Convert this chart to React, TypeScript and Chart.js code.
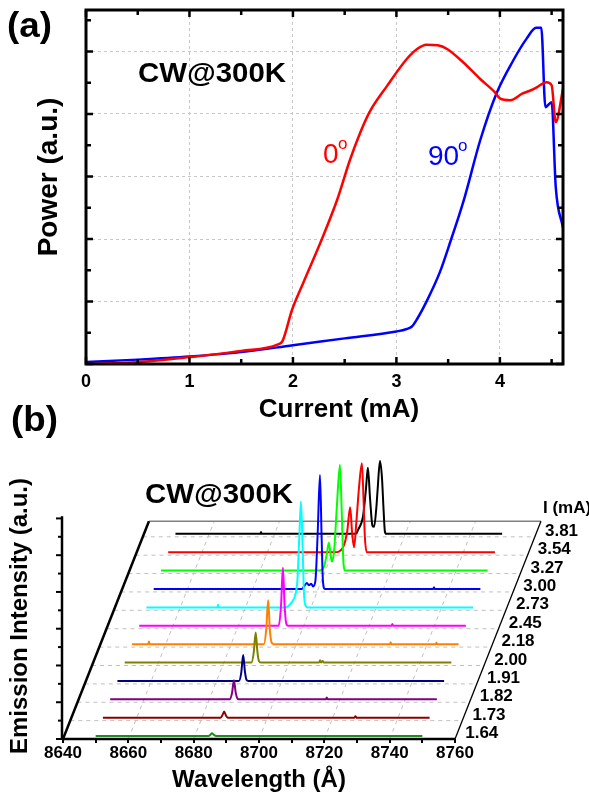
import React, { useEffect, useRef } from "react";
import { Chart, registerables } from "chart.js";

Chart.register(...registerables);

const FONT = "'Liberation Sans', Arial, Helvetica, sans-serif";

// ---------------- Panel (a): power vs current ----------------
const currentRed = [0, 0.5, 1.0, 1.5, 1.85, 1.9, 1.99, 2.1, 2.28, 2.43, 2.55, 2.65, 2.74, 2.91, 3.1, 3.2, 3.29, 3.4, 3.49, 3.65, 3.81, 3.95, 4.0, 4.1, 4.22, 4.3, 4.36, 4.45, 4.5, 4.54, 4.61];
const powerRed = [0, 0.03, 0.11, 0.21, 0.31, 0.37, 0.86, 1.3, 2.0, 2.64, 3.26, 3.7, 4.03, 4.45, 4.88, 5.04, 5.11, 5.1, 5.04, 4.82, 4.56, 4.35, 4.25, 4.22, 4.33, 4.38, 4.43, 4.51, 4.46, 3.87, 4.4];
const currentBlue = [0, 0.5, 1.0, 1.5, 2.0, 2.5, 3.0, 3.1, 3.15, 3.2, 3.3, 3.42, 3.53, 3.6, 3.66, 3.81, 3.97, 4.13, 4.26, 4.35, 4.4, 4.44, 4.5, 4.54, 4.61];
const powerBlue = [0.03, 0.07, 0.12, 0.19, 0.3, 0.41, 0.52, 0.56, 0.6, 0.72, 1.03, 1.47, 2.0, 2.35, 2.67, 3.58, 4.34, 4.86, 5.21, 5.38, 5.38, 4.11, 4.19, 2.83, 2.18];
const currentTicks = [0, 1, 2, 3, 4];
const powerGrid = [0, 1, 2, 3, 4, 5];

// ---------------- Panel (b): spectra waterfall ----------------
const wavelengthTicks = [8640, 8650, 8660, 8670, 8680, 8690, 8700, 8710, 8720, 8730, 8740, 8750, 8760];
const wavelengthGrid = [8660, 8680, 8700, 8720, 8740];
const currentLabels = ["1.64", "1.73", "1.82", "1.91", "2.00", "2.18", "2.45", "2.73", "3.00", "3.27", "3.54", "3.81"];
const traceColors = ["#1e8c1e", "#8b0000", "#800080", "#000080", "#808000", "#ff8000", "#ff00ff", "#00ffff", "#0000ff", "#00ff00", "#ff0000", "#000000"];

const s164 = [[8650, 0.16], [8684.5, 0.16], [8685.1, 0.22], [8685.6, 0.31], [8686.2, 0.22], [8686.9, 0.16], [8750, 0.16]];
const s173 = [[8650, 0.16], [8686.0, 0.16], [8686.6, 0.3], [8687.1, 0.49], [8687.6, 0.3], [8688.2, 0.16], [8727.0, 0.16], [8727.3, 0.24], [8727.6, 0.16], [8750, 0.16]];
const s182 = [[8650, 0.16], [8686.6, 0.16], [8687.3, 0.5], [8687.9, 1.19], [8688.4, 0.55], [8689.0, 0.19], [8689.5, 0.16], [8716.0, 0.16], [8716.3, 0.26], [8716.6, 0.16], [8750, 0.16]];
const s191 = [[8650, 0.16], [8687.2, 0.16], [8687.9, 0.6], [8688.5, 1.57], [8689.0, 0.7], [8689.5, 0.22], [8690.1, 0.16], [8750, 0.16]];
const s200 = [[8650, 0.16], [8688.8, 0.16], [8689.5, 0.7], [8690.1, 1.79], [8690.6, 0.8], [8691.1, 0.24], [8691.7, 0.16], [8709.5, 0.16], [8709.8, 0.28], [8710.1, 0.16], [8710.6, 0.25], [8710.9, 0.16], [8750, 0.16]];
const s218 = [[8650, 0.16], [8655.0, 0.16], [8655.2, 0.3], [8655.4, 0.16], [8690.4, 0.16], [8691.1, 0.95], [8691.7, 2.55], [8692.2, 1.0], [8692.7, 0.28], [8693.3, 0.16], [8729.0, 0.16], [8729.2, 0.26], [8729.4, 0.16], [8743.0, 0.16], [8743.2, 0.24], [8743.4, 0.16], [8750, 0.16]];
const s245 = [[8650, 0.16], [8692.7, 0.16], [8693.4, 1.2], [8694.0, 3.31], [8694.5, 1.3], [8695.0, 0.3], [8695.6, 0.16], [8727.3, 0.16], [8727.5, 0.26], [8727.7, 0.16], [8750, 0.16]];
const s273 = [[8650, 0.16], [8671.7, 0.16], [8671.9, 0.3], [8672.1, 0.16], [8692.5, 0.16], [8694.5, 0.45], [8695.5, 0.8], [8696.2, 1.6], [8696.8, 4.0], [8697.3, 5.92], [8697.8, 3.5], [8698.2, 1.0], [8698.7, 0.25], [8699.3, 0.16], [8750, 0.16]];
const s300 = [[8650, 0.16], [8695.3, 0.16], [8696.2, 0.35], [8696.9, 0.49], [8697.5, 0.36], [8698.2, 0.45], [8698.8, 0.3], [8699.5, 0.6], [8700.2, 3.2], [8700.9, 6.36], [8701.4, 3.0], [8701.8, 0.6], [8702.4, 0.16], [8735.6, 0.16], [8735.8, 0.26], [8736.0, 0.16], [8750, 0.16]];
const s327 = [[8650, 0.16], [8698.5, 0.16], [8699.9, 0.36], [8700.8, 1.1], [8701.4, 1.68], [8701.9, 1.1], [8702.3, 0.65], [8703.0, 1.2], [8703.8, 3.5], [8704.8, 5.92], [8705.4, 3.0], [8705.9, 0.5], [8706.4, 0.16], [8750, 0.16]];
const s354 = [[8650, 0.16], [8701.0, 0.16], [8703.5, 0.42], [8704.8, 1.3], [8705.7, 2.61], [8706.3, 1.2], [8706.9, 0.43], [8707.6, 1.8], [8708.4, 3.66], [8709.3, 5.0], [8709.8, 3.0], [8710.2, 1.0], [8710.8, 0.16], [8750, 0.16]];
const s381 = [[8650, 0.16], [8676.0, 0.16], [8676.2, 0.26], [8676.4, 0.16], [8705.3, 0.16], [8705.9, 0.38], [8707.4, 1.1], [8708.3, 2.57], [8708.9, 3.75], [8709.6, 2.0], [8710.3, 0.6], [8710.8, 0.54], [8711.5, 1.6], [8711.9, 2.6], [8712.6, 4.13], [8713.2, 3.26], [8713.7, 1.5], [8714.1, 0.3], [8714.5, 0.16], [8750, 0.16]];
const spectra = [s164, s173, s182, s191, s200, s218, s245, s273, s300, s327, s354, s381];

// oblique projection of the waterfall (per trace step)
const DEPTH_SHIFT = 2.22; // Å
const DEPTH_RISE = 1; // intensity units
const DEPTH_EXTENT = 11.85;
const AXIS_TOP = 12.12;

function wideText(ctx: any, text: string, x: number, y: number, sx: number) {
  ctx.save();
  ctx.translate(x, y);
  ctx.scale(sx, 1);
  ctx.fillText(text, 0, 0);
  ctx.restore();
}

function PanelA() {
  const ref = useRef<HTMLCanvasElement>(null);
  useEffect(() => {
    const deco = {
      id: "decoA",
      afterDraw(chart: any) {
        const { ctx, chartArea: a } = chart;
        const xs = chart.scales.x;
        const ys = chart.scales.y;
        ctx.save();
        ctx.strokeStyle = "#000";
        ctx.lineWidth = 2.5;
        for (let v = 0; v <= 4.5 + 1e-9; v += 0.5) {
          const px = xs.getPixelForValue(v);
          const L = Math.abs(v - Math.round(v)) < 1e-6 ? 7 : 5;
          ctx.beginPath();
          ctx.moveTo(px, a.bottom); ctx.lineTo(px, a.bottom - L);
          ctx.moveTo(px, a.top); ctx.lineTo(px, a.top + L);
          ctx.stroke();
        }
        for (let v = 0; v <= 5.5 + 1e-9; v += 0.5) {
          const py = ys.getPixelForValue(v);
          const L = Math.abs(v - Math.round(v)) < 1e-6 ? 7 : 5;
          ctx.beginPath();
          ctx.moveTo(a.left, py); ctx.lineTo(a.left + L, py);
          ctx.moveTo(a.right, py); ctx.lineTo(a.right - L, py);
          ctx.stroke();
        }
        ctx.lineWidth = 3;
        ctx.strokeRect(a.left, a.top, a.right - a.left, a.bottom - a.top);

        ctx.fillStyle = "#000";
        ctx.textBaseline = "alphabetic";
        ctx.textAlign = "left";
        ctx.font = `bold 35px ${FONT}`;
        wideText(ctx, "(a)", 7, 37, 1.05);
        ctx.font = `bold 27px ${FONT}`;
        wideText(ctx, "CW@300K", 138, 82, 1.09);

        // axis titles
        ctx.textAlign = "center";
        ctx.font = `bold 26px ${FONT}`;
        ctx.fillText("Current (mA)", 339, 417);
        ctx.save();
        ctx.translate(57, 177);
        ctx.rotate(-Math.PI / 2);
        ctx.font = `bold 28px ${FONT}`;
        ctx.fillText("Power (a.u.)", 0, 0);
        ctx.restore();

        ctx.textAlign = "left";
        ctx.fillStyle = "#ff0000";
        ctx.font = `28px ${FONT}`;
        ctx.fillText("0", 323, 163);
        ctx.font = `17px ${FONT}`;
        ctx.fillText("o", 338, 149);
        ctx.fillStyle = "#0000ff";
        ctx.font = `28px ${FONT}`;
        ctx.fillText("90", 428, 165);
        ctx.font = `17px ${FONT}`;
        ctx.fillText("o", 458, 151);
        ctx.restore();
      },
    };
    const chart = new Chart(ref.current as HTMLCanvasElement, {
      type: "scatter",
      data: {
        datasets: [
          {
            label: "0°",
            data: currentRed.map((x, i) => ({ x, y: powerRed[i] })),
            borderColor: "#ff0000",
            borderWidth: 2.5,
            pointRadius: 0,
            showLine: true,
            cubicInterpolationMode: "monotone",
          },
          {
            label: "90°",
            data: currentBlue.map((x, i) => ({ x, y: powerBlue[i] })),
            borderColor: "#0000ff",
            borderWidth: 2.5,
            pointRadius: 0,
            showLine: true,
            cubicInterpolationMode: "monotone",
          },
        ],
      },
      options: {
        animation: false,
        responsive: false,
        maintainAspectRatio: false,
        layout: { padding: { top: 10, right: 26, left: 0, bottom: 0 } },
        plugins: { legend: { display: false }, tooltip: { enabled: false } },
        scales: {
          x: {
            type: "linear",
            min: 0,
            max: 4.61,
            afterBuildTicks: (s: any) => { s.ticks = currentTicks.map((v) => ({ value: v })); },
            afterFit: (s: any) => { s.height = 66; },
            grid: {
              drawTicks: false,
              color: (c: any) => (c.tick && c.tick.value > 0 ? "#c8c8c8" : "rgba(0,0,0,0)"),
              lineWidth: 1,
            },
            border: { display: false, dash: [3, 3] },
            ticks: { font: { family: FONT, size: 18, weight: "bold" }, color: "#000", padding: 7, maxRotation: 0, autoSkip: false },
          },
          y: {
            type: "linear",
            min: 0,
            max: 5.664,
            afterBuildTicks: (s: any) => { s.ticks = powerGrid.map((v) => ({ value: v })); },
            afterFit: (s: any) => { s.width = 86; },
            grid: {
              drawTicks: false,
              color: (c: any) => (c.tick && c.tick.value > 0 ? "#c8c8c8" : "rgba(0,0,0,0)"),
              lineWidth: 1,
            },
            border: { display: false, dash: [3, 3] },
            ticks: { display: false },
          },
        },
      },
      plugins: [deco],
    } as any);
    return () => chart.destroy();
  }, []);
  return <canvas ref={ref} width={589} height={430} style={{ position: "absolute", left: 0, top: 0, width: 589, height: 430 }} />;
}

function PanelB() {
  const ref = useRef<HTMLCanvasElement>(null);
  useEffect(() => {
    const deco = {
      id: "decoB",
      beforeDatasetsDraw(chart: any) {
        const { ctx } = chart;
        const xs = chart.scales.x;
        const ys = chart.scales.y;
        const P = (w: number, d: number, v: number) => [xs.getPixelForValue(w + d * DEPTH_SHIFT), ys.getPixelForValue(v + d * DEPTH_RISE)];
        const line = (p: number[], q: number[]) => { ctx.beginPath(); ctx.moveTo(p[0], p[1]); ctx.lineTo(q[0], q[1]); ctx.stroke(); };
        const w0 = wavelengthTicks[0];
        const w1 = wavelengthTicks[wavelengthTicks.length - 1];
        ctx.save();
        ctx.strokeStyle = "#c0c0c0";
        ctx.lineWidth = 1;
        ctx.setLineDash([4, 4]);
        wavelengthGrid.forEach((w) => line(P(w, 0, 0), P(w, DEPTH_EXTENT, 0)));
        for (let d = 1; d < currentLabels.length; d++) line(P(w0, d, 0), P(w1, d, 0));
        ctx.setLineDash([]);
        ctx.strokeStyle = "#808080";
        ctx.lineWidth = 1.5;
        line(P(w0, DEPTH_EXTENT, 0), P(w1, DEPTH_EXTENT, 0));
        ctx.strokeStyle = "#000";
        ctx.lineWidth = 1.3;
        line(P(w1, 0, 0), P(w1, DEPTH_EXTENT, 0));
        ctx.lineWidth = 2.5;
        line(P(w0, 0, 0), P(w0, DEPTH_EXTENT, 0));
        line(P(w0, 0, 0), P(w1, 0, 0));
        // vertical intensity axis
        const ax = xs.getPixelForValue(w0) - 1;
        ctx.beginPath();
        ctx.moveTo(ax, ys.getPixelForValue(0) + 1);
        ctx.lineTo(ax, ys.getPixelForValue(AXIS_TOP));
        ctx.stroke();
        ctx.lineWidth = 2;
        for (let i = 0; i <= 12; i++) {
          const py = ys.getPixelForValue(i);
          ctx.beginPath();
          ctx.moveTo(ax, py);
          ctx.lineTo(ax - (i % 2 === 0 ? 6 : 4), py);
          ctx.stroke();
        }
        ctx.restore();
      },
      afterDraw(chart: any) {
        const { ctx } = chart;
        const xs = chart.scales.x;
        const ys = chart.scales.y;
        const w1 = wavelengthTicks[wavelengthTicks.length - 1];
        ctx.save();
        ctx.fillStyle = "#000";
        ctx.textAlign = "left";
        ctx.textBaseline = "middle";
        ctx.font = `bold 17px ${FONT}`;
        currentLabels.forEach((lab, k) => {
          const d = k + 0.3;
          ctx.fillText(lab, xs.getPixelForValue(w1 + d * DEPTH_SHIFT) + 8, ys.getPixelForValue(d * DEPTH_RISE));
        });
        ctx.textBaseline = "alphabetic";
        ctx.fillText("I (mA)", 543, 123);
        ctx.font = `bold 35px ${FONT}`;
        wideText(ctx, "(b)", 11, 41, 1.05);
        ctx.font = `bold 27px ${FONT}`;
        wideText(ctx, "CW@300K", 145, 113, 1.09);
        ctx.textAlign = "center";
        ctx.font = `bold 24px ${FONT}`;
        const cx = (xs.getPixelForValue(wavelengthTicks[0]) + xs.getPixelForValue(w1)) / 2;
        ctx.fillText("Wavelength (Å)", cx, 397);
        ctx.translate(27, 226);
        ctx.rotate(-Math.PI / 2);
        ctx.font = `bold 24px ${FONT}`;
        ctx.fillText("Emission Intensity (a.u.)", 0, 0);
        ctx.restore();
      },
    };
    const chart = new Chart(ref.current as HTMLCanvasElement, {
      type: "scatter",
      data: {
        datasets: spectra.map((s, k) => ({
          label: currentLabels[k],
          data: s.map(([w, v]) => ({ x: w + k * DEPTH_SHIFT, y: v + k * DEPTH_RISE })),
          borderColor: traceColors[k],
          borderWidth: 2,
          pointRadius: 0,
          showLine: true,
          cubicInterpolationMode: "monotone",
        })),
      },
      options: {
        animation: false,
        responsive: false,
        maintainAspectRatio: false,
        layout: { padding: { top: 65, right: 42.5, left: 63, bottom: 0 } },
        plugins: { legend: { display: false }, tooltip: { enabled: false } },
        scales: {
          x: {
            type: "linear",
            min: 8640,
            max: 8788,
            afterBuildTicks: (s: any) => { s.ticks = wavelengthTicks.map((v) => ({ value: v })); },
            afterFit: (s: any) => { s.height = 55; },
            grid: { drawOnChartArea: false, drawTicks: true, tickLength: 4, color: "#000", lineWidth: 2 },
            border: { display: false },
            ticks: {
              font: { family: FONT, size: 17, weight: "bold" },
              color: "#000",
              padding: 0,
              maxRotation: 0,
              autoSkip: false,
              callback: (v: any) => (Number(v) % 20 === 0 ? String(v) : ""),
            },
          },
          y: { type: "linear", display: false, min: 0, max: 15.45 },
        },
      },
      plugins: [deco],
    } as any);
    return () => chart.destroy();
  }, []);
  return <canvas ref={ref} width={589} height={404} style={{ position: "absolute", left: 0, top: 390, width: 589, height: 404 }} />;
}

export default function App() {
  return (
    <div style={{ position: "fixed", left: 0, top: 0, width: 589, height: 794, background: "#fff", overflow: "hidden" }}>
      <PanelA />
      <PanelB />
    </div>
  );
}
